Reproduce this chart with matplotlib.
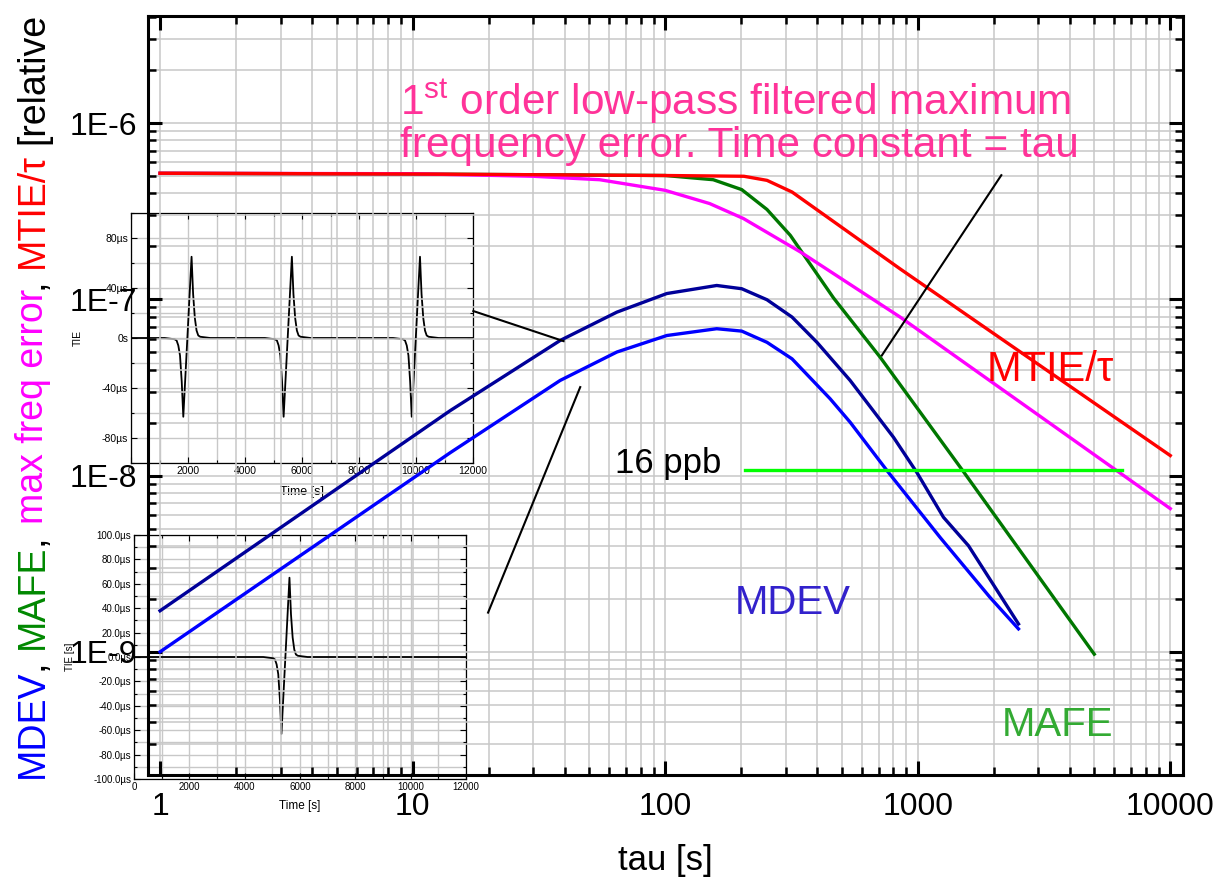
import numpy as np
import matplotlib.pyplot as plt
from matplotlib.ticker import FixedLocator, LogLocator, NullFormatter, FuncFormatter, MultipleLocator

plt.rcParams['font.family'] = ['Liberation Sans', 'DejaVu Sans']
plt.rcParams['mathtext.fontset'] = 'custom'
plt.rcParams['mathtext.rm'] = 'Liberation Sans'

# main chart data
tau_mtie = [1, 10, 100, 205, 253, 318, 852, 10000]
mtie = [5.2e-7, 5.15e-7, 5.05e-7, 5.0e-7, 4.74e-7, 4.07e-7, 1.49e-7, 1.3e-8]

tau_mfe = [1, 10, 30, 55, 100, 150, 204, 343, 852, 10000]
mfe = [5.2e-7, 5.17e-7, 5.0e-7, 4.78e-7, 4.16e-7, 3.5e-7, 2.88e-7, 1.86e-7, 7.94e-8, 6.5e-9]

tau_mafe = [1, 10, 100, 155, 201, 253, 313, 464, 710, 1520, 5000]
mafe = [5.2e-7, 5.15e-7, 5.05e-7, 4.78e-7, 4.2e-7, 3.24e-7, 2.31e-7, 1.02e-7, 4.7e-8, 1.05e-8, 9.7e-10]

tau_mdev1 = [1, 14.1, 38.4, 64.4, 101.5, 160, 201, 253, 318, 399, 540, 802, 993, 1265, 1589, 2506]
mdev1 = [1.71e-9, 2.34e-8, 5.85e-8, 8.47e-8, 1.08e-7, 1.2e-7, 1.15e-7, 9.96e-8, 7.94e-8, 5.71e-8,
         3.47e-8, 1.65e-8, 1.04e-8, 5.8e-9, 4.0e-9, 1.44e-9]

tau_mdev2 = [1, 14.1, 38.4, 64.4, 101.5, 160, 201, 253, 318, 450, 540, 755, 1228, 1937, 2506]
mdev2 = [1.0e-9, 1.35e-8, 3.47e-8, 5.03e-8, 6.24e-8, 6.82e-8, 6.61e-8, 5.71e-8, 4.6e-8, 2.73e-8,
         2.01e-8, 1.07e-8, 4.45e-9, 2.03e-9, 1.35e-9]

limit_tau = [207.5, 6457]
limit_val = [1.07e-8, 1.07e-8]

# pointer lines
ptr_a_tau, ptr_a_val = [2143, 721], [5.07e-7, 4.81e-8]
ptr_b_tau, ptr_b_val = [17.4, 39.6], [8.59e-8, 5.8e-8]
ptr_c_tau, ptr_c_val = [46.1, 19.9], [3.18e-8, 1.67e-9]

# TIE pulse shape of the insets (offset from pulse centre [s], TIE [us])
pulse_off = [-800, -450, -380, -320, -260, -200, -145, 145, 200, 260, 320, 380, 450, 800]
pulse_tie = [0, -1, -2, -6, -14, -35, -63, 65, 35, 16, 6, 2, 1, 0]
inset1_centres = [1980, 5500, 9995]
inset2_centres = [5474]

x_ticks = [1, 10, 100, 1000, 10000]
x_labels = ['1', '10', '100', '1000', '10000']
y_ticks = [1e-9, 1e-8, 1e-7, 1e-6]
y_labels = ['1E-9', '1E-8', '1E-7', '1E-6']

W, H = 1213, 883
fig = plt.figure(figsize=(W / 100, H / 100), dpi=100)


def fpos(l, r, t, b):
    return [l / W, (H - b) / H, (r - l) / W, (b - t) / H]


def pulse_train(centres):
    t, v = [0], [0]
    for c in centres:
        t += [c + o for o in pulse_off]
        v += pulse_tie
    t.append(12000)
    v.append(0)
    return t, v


def style_inset(a, ymaj, ymin, fmt, ylab, lsize, xpad, ypad):
    a.set_facecolor('none')
    a.set_xlim(0, 12000)
    a.set_ylim(-100, 100)
    a.xaxis.set_major_locator(MultipleLocator(2000))
    a.xaxis.set_minor_locator(MultipleLocator(1000))
    a.yaxis.set_major_locator(MultipleLocator(ymaj))
    a.yaxis.set_minor_locator(MultipleLocator(ymin))
    a.yaxis.set_major_formatter(FuncFormatter(fmt))
    a.grid(True, which='both', color='#c8c8c8', lw=1.0)
    a.set_axisbelow(True)
    a.tick_params(which='both', direction='in', top=True, right=True, labelsize=lsize,
                  width=0.8, pad=2)
    a.tick_params(which='major', length=4)
    a.tick_params(which='minor', length=2)
    for s in a.spines.values():
        s.set_linewidth(0.9)
    a.set_xlabel('Time [s]', fontsize=lsize + 1.5, labelpad=xpad)
    a.set_ylabel(ylab, fontsize=lsize, labelpad=ypad)


# insets (drawn below the main axes)
ins1 = fig.add_axes(fpos(131, 473, 213, 463))
ins1.set_zorder(1)
t1, v1 = pulse_train(inset1_centres)
ins1.plot(t1, v1, color='black', lw=1.3)
style_inset(ins1, 40, 20, lambda v, p: '0s' if v == 0 else f'{v:g}µs', 'TIE', 7.5, 7, 14)

ins2 = fig.add_axes(fpos(134, 466, 535, 779))
ins2.set_zorder(1)
t2, v2 = pulse_train(inset2_centres)
ins2.plot(t2, v2, color='black', lw=1.3)
style_inset(ins2, 20, 10, lambda v, p: f'{v:.1f}µs', 'TIE [s]', 7, 6, 13)

# main axes
ax = fig.add_axes(fpos(148, 1183, 16, 775))
ax.set_zorder(2)
ax.patch.set_visible(False)
ax.set_xscale('log')
ax.set_yscale('log')
ax.set_xlim(0.896, 11230)
ax.set_ylim(2.0e-10, 4.06e-6)

ax.plot(tau_mdev1, mdev1, color='#000099', lw=2.4)
ax.plot(tau_mdev2, mdev2, color='#0000ff', lw=2.4)
ax.plot(tau_mafe, mafe, color='#007700', lw=2.4)
ax.plot(tau_mfe, mfe, color='#ff00ff', lw=2.4)
ax.plot(tau_mtie, mtie, color='#ff0000', lw=2.4)
ax.plot(limit_tau, limit_val, color='#00ff00', lw=2.4)
for pt, pv in [(ptr_a_tau, ptr_a_val), (ptr_b_tau, ptr_b_val), (ptr_c_tau, ptr_c_val)]:
    ax.plot(pt, pv, color='black', lw=1.5)

ax.xaxis.set_major_locator(FixedLocator(x_ticks))
ax.set_xticklabels(x_labels)
ax.xaxis.set_minor_locator(LogLocator(base=10, subs=np.arange(2, 10)))
ax.xaxis.set_minor_formatter(NullFormatter())
ax.yaxis.set_major_locator(FixedLocator(y_ticks))
ax.set_yticklabels(y_labels)
ax.yaxis.set_minor_locator(LogLocator(base=10, subs=np.arange(2, 10)))
ax.yaxis.set_minor_formatter(NullFormatter())

ax.grid(True, which='both', color='#c8c8c8', lw=1.1)
ax.set_axisbelow(True)
ax.tick_params(which='both', direction='in', top=True, right=True, labelsize=23)
ax.tick_params(which='major', length=10, width=2.2)
ax.tick_params(which='minor', length=6, width=1.8)
ax.tick_params(axis='x', pad=12)
ax.tick_params(axis='y', pad=8)
for s in ax.spines.values():
    s.set_linewidth(2.2)

ax.set_xlabel('tau [s]', fontsize=25, labelpad=16)

# annotations
ax.text(8.92, 1.11e-6, r'1$^{\mathrm{st}}$ order low-pass filtered maximum', color='#ff3399',
        fontsize=30.5, va='baseline')
ax.text(8.92, 6.41e-7, 'frequency error. Time constant = tau', color='#ff3399',
        fontsize=30.5, va='baseline')
ax.text(1880, 3.43e-8, 'MTIE/τ', color='#ff0000', fontsize=30, va='baseline')
ax.text(63.4, 1.03e-8, '16 ppb', color='black', fontsize=25, va='baseline')
ax.text(189, 1.64e-9, 'MDEV', color='#3322cc', fontsize=29, va='baseline')
ax.text(2161, 3.33e-10, 'MAFE', color='#33aa33', fontsize=29, va='baseline')

# multicoloured y-axis title, stacked piece by piece
ylab_parts = [('MDEV', '#0000ff'), (',', 'black'), ('MAFE', '#008800'), (',', 'black'),
              ('max freq error', '#ff00ff'), (',', 'black'), ('MTIE/τ', '#ff0000'),
              ('[relative', 'black')]
gaps = [0, 0, 10, 0, 10, 0, 10, 10]
prev = fig.text(33 / W, (H - 778) / H, ylab_parts[0][0], color=ylab_parts[0][1], fontsize=27,
                rotation=90, ha='center', va='bottom')
for (txt, col), gap in zip(ylab_parts[1:], gaps[1:]):
    prev = ax.annotate(txt, xy=(0.5, 1), xycoords=prev, xytext=(0, gap),
                       textcoords='offset pixels', color=col, fontsize=27, rotation=90,
                       ha='center', va='bottom', annotation_clip=False)

fig.savefig('out.png', dpi=100)
